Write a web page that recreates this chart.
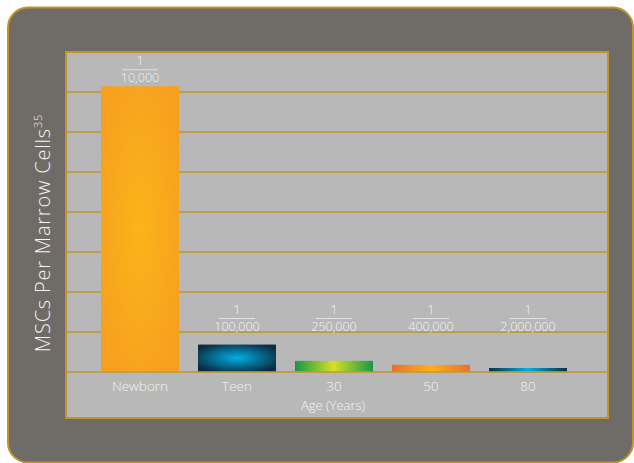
<!DOCTYPE html>
<html>
<head>
<meta charset="utf-8">
<script src="https://cdn.jsdelivr.net/npm/d3@7"></script>
<style>
  body { margin: 0; background: #fff; }
  text { font-family: "Open Sans", "Noto Sans", sans-serif; font-weight: 300; fill: #f4f4f4; }
</style>
</head>
<body>
<div id="chart"></div>
<script>
// ages on the x axis
const ages = ["Newborn", "Teen", "30", "50", "80"];
// MSCs per million marrow cells
const mscPerMillion = [100, 9.6, 3.9, 2.5, 1.4];
// fraction labels above bars
const ratioTop = ["1", "1", "1", "1", "1"];
const ratioBottom = ["10,000", "100,000", "250,000", "400,000", "2,000,000"];
// gridline values
const gridTicks = [0, 14, 28, 42, 56, 70, 84, 98];

const width = 634;
const height = 463;
const gold = "#c0942b";

const svg = d3
  .select("#chart")
  .append("svg")
  .attr("width", width)
  .attr("height", height);

const defs = svg.append("defs");

// gradients for each bar
const radial = (id, inner, outer) => {
  const g = defs
    .append("radialGradient")
    .attr("id", id)
    .attr("cx", "50%")
    .attr("cy", "50%")
    .attr("r", "60%");
  g.append("stop").attr("offset", "0%").attr("stop-color", inner);
  g.append("stop").attr("offset", "100%").attr("stop-color", outer);
};
const horiz = (id, edge, mid) => {
  const g = defs
    .append("linearGradient")
    .attr("id", id)
    .attr("x1", "0%")
    .attr("x2", "100%")
    .attr("y1", "0%")
    .attr("y2", "0%");
  g.append("stop").attr("offset", "0%").attr("stop-color", edge);
  g.append("stop").attr("offset", "50%").attr("stop-color", mid);
  g.append("stop").attr("offset", "100%").attr("stop-color", edge);
};
radial("g0", "#fbb419", "#f7a01f");
radial("g1", "#00b0e3", "#0c2b40");
horiz("g2", "#169848", "#d5df25");
horiz("g3", "#e8712a", "#fcb216");
horiz("g4", "#0b3043", "#00b1e4");
const fills = ["url(#g0)", "url(#g1)", "url(#g2)", "url(#g3)", "url(#g4)"];

// outer rounded box
svg
  .append("rect")
  .attr("x", 8)
  .attr("y", 7.5)
  .attr("width", 625)
  .attr("height", 455)
  .attr("rx", 20)
  .attr("fill", "#6f6b67")
  .attr("stroke", gold)
  .attr("stroke-width", 2);

// plot panel
svg
  .append("rect")
  .attr("x", 66)
  .attr("y", 52)
  .attr("width", 542)
  .attr("height", 366)
  .attr("fill", "#b8b8b8")
  .attr("stroke", gold)
  .attr("stroke-width", 2);

const xScale = d3
  .scaleBand()
  .domain(ages)
  .range([91.5, 576.5])
  .paddingInner(0.196)
  .paddingOuter(0.098);

const yScale = d3
  .scaleLinear()
  .domain([0, 98])
  .range([372, 92]);

// gridlines
gridTicks.forEach(t => {
  svg
    .append("line")
    .attr("x1", 67)
    .attr("x2", 607)
    .attr("y1", yScale(t))
    .attr("y2", yScale(t))
    .attr("stroke", gold)
    .attr("stroke-width", 1.5);
});

// bars
svg
  .selectAll(".bar")
  .data(mscPerMillion)
  .enter()
  .append("rect")
  .attr("class", "bar")
  .attr("x", (d, i) => xScale(ages[i]))
  .attr("width", xScale.bandwidth())
  .attr("y", d => yScale(d))
  .attr("height", d => yScale(0) - 0.75 - yScale(d))
  .attr("fill", (d, i) => fills[i]);

// fraction labels
mscPerMillion.forEach((d, i) => {
  const cx = xScale(ages[i]) + xScale.bandwidth() / 2;
  const base = Math.min(yScale(d) - 4, yScale(gridTicks[1]) - 1);
  svg
    .append("text")
    .attr("x", cx)
    .attr("y", base - 17)
    .attr("text-anchor", "middle")
    .style("font-size", "13px")
    .text(ratioTop[i]);
  svg
    .append("line")
    .attr("x1", cx - 18)
    .attr("x2", cx + 18)
    .attr("y1", base - 12.5)
    .attr("y2", base - 12.5)
    .attr("stroke", "#e2e2e2")
    .attr("stroke-width", 1);
  svg
    .append("text")
    .attr("x", cx)
    .attr("y", base)
    .attr("text-anchor", "middle")
    .style("font-size", "12.5px")
    .text(ratioBottom[i]);
});

// x labels
svg
  .selectAll(".xlab")
  .data(ages)
  .enter()
  .append("text")
  .attr("class", "xlab")
  .attr("x", d => xScale(d) + xScale.bandwidth() / 2)
  .attr("y", 391)
  .attr("text-anchor", "middle")
  .style("font-size", "13.5px")
  .text(d => d);

svg
  .append("text")
  .attr("x", 333)
  .attr("y", 410)
  .attr("text-anchor", "middle")
  .style("font-size", "13px")
  .text("Age (Years)");

// y title
const yTitle = svg
  .append("text")
  .attr("transform", "translate(50,233) rotate(-90)")
  .attr("text-anchor", "middle")
  .style("font-size", "20px")
  .style("letter-spacing", "0.8px");
yTitle.append("tspan").text("MSCs Per Marrow Cells");
yTitle
  .append("tspan")
  .attr("dy", -8)
  .style("font-size", "11px")
  .text("35");
</script>
</body>
</html>
